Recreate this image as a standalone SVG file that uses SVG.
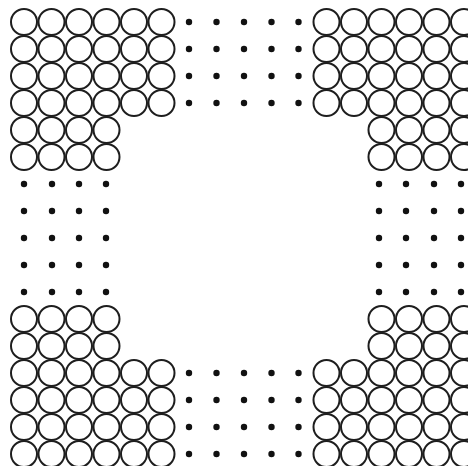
<svg xmlns="http://www.w3.org/2000/svg" xmlns:xlink="http://www.w3.org/1999/xlink" width="468" height="466" viewBox="0 0 468 466">
<style>
.c{fill:none;stroke:#1e1e1e;stroke-width:2}
.d{fill:#111}
</style>
<defs>
<g id="rowFull">
<circle class="c" cx="24" cy="0" r="13"/><circle class="c" cx="51.5" cy="0" r="13"/><circle class="c" cx="79" cy="0" r="13"/><circle class="c" cx="106.5" cy="0" r="13"/><circle class="c" cx="134" cy="0" r="13"/><circle class="c" cx="161.5" cy="0" r="13"/>
<circle class="d" cx="189" cy="0" r="3.2"/><circle class="d" cx="216.5" cy="0" r="3.2"/><circle class="d" cx="244" cy="0" r="3.2"/><circle class="d" cx="271.5" cy="0" r="3.2"/><circle class="d" cx="298.5" cy="0" r="3.2"/>
<circle class="c" cx="326.5" cy="0" r="13"/><circle class="c" cx="354" cy="0" r="13"/><circle class="c" cx="381.5" cy="0" r="13"/><circle class="c" cx="409" cy="0" r="13"/><circle class="c" cx="436.5" cy="0" r="13"/><circle class="c" cx="464" cy="0" r="13"/>
</g>
<g id="rowShort">
<circle class="c" cx="24" cy="0" r="13"/><circle class="c" cx="51.5" cy="0" r="13"/><circle class="c" cx="79" cy="0" r="13"/><circle class="c" cx="106.5" cy="0" r="13"/>
<circle class="c" cx="381.5" cy="0" r="13"/><circle class="c" cx="409" cy="0" r="13"/><circle class="c" cx="436.5" cy="0" r="13"/><circle class="c" cx="464" cy="0" r="13"/>
</g>
<g id="rowDots">
<circle class="d" cx="24" cy="0" r="3.2"/><circle class="d" cx="52" cy="0" r="3.2"/><circle class="d" cx="79" cy="0" r="3.2"/><circle class="d" cx="106" cy="0" r="3.2"/>
<circle class="d" cx="379" cy="0" r="3.2"/><circle class="d" cx="406" cy="0" r="3.2"/><circle class="d" cx="434" cy="0" r="3.2"/><circle class="d" cx="461" cy="0" r="3.2"/>
</g>
</defs>
<rect width="468" height="466" fill="#fff"/>
<g id="grid">
<use xlink:href="#rowFull" y="22"/>
<use xlink:href="#rowFull" y="49"/>
<use xlink:href="#rowFull" y="76"/>
<use xlink:href="#rowFull" y="103"/>
<use xlink:href="#rowShort" y="130"/>
<use xlink:href="#rowShort" y="157"/>
<use xlink:href="#rowDots" y="184"/>
<use xlink:href="#rowDots" y="211"/>
<use xlink:href="#rowDots" y="238"/>
<use xlink:href="#rowDots" y="265"/>
<use xlink:href="#rowDots" y="292"/>
<use xlink:href="#rowShort" y="319"/>
<use xlink:href="#rowShort" y="346"/>
<use xlink:href="#rowFull" y="373"/>
<use xlink:href="#rowFull" y="400"/>
<use xlink:href="#rowFull" y="427"/>
<use xlink:href="#rowFull" y="454"/>
</g>
</svg>
